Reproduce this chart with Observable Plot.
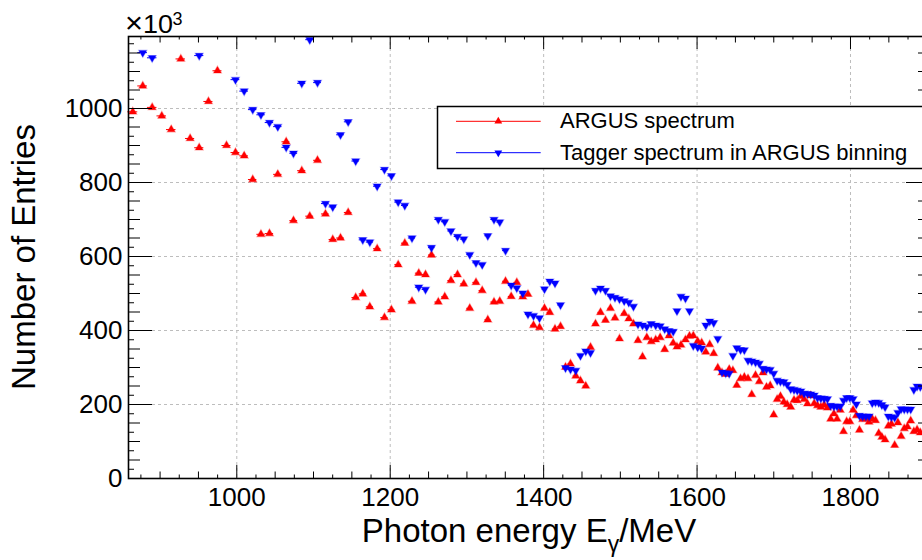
<!DOCTYPE html>
<html><head><meta charset="utf-8">
<script src="https://cdn.jsdelivr.net/npm/d3@7"></script>
<script src="https://cdn.jsdelivr.net/npm/@observablehq/plot@0.6"></script>
<style>
html,body{margin:0;padding:0;background:#fff;overflow:hidden;}
#wrap{width:922px;height:560px;overflow:hidden;position:relative;}
</style></head><body><div id="wrap"></div>
<script>
// Bin centres (photon energy, MeV)
const energy = [864.4, 877.4, 889.7, 902.2, 914.5, 927.0, 939.2, 951.0, 963.1, 974.8,
 986.6, 998.3, 1009.6, 1020.8, 1031.5, 1042.6, 1053.4, 1064.4, 1073.9, 1084.7,
 1095.1, 1105.2, 1115.6, 1125.1, 1135.2, 1145.2, 1155.0, 1164.2, 1173.4, 1183.0,
 1192.5, 1201.6, 1210.4, 1219.0, 1228.4, 1237.2, 1246.0, 1253.8, 1262.7, 1271.1,
 1279.2, 1287.7, 1295.9, 1303.7, 1311.8, 1319.9, 1327.2, 1335.3, 1342.8, 1350.3,
 1357.7, 1365.0, 1372.8, 1379.6, 1386.8, 1394.6, 1401.1, 1408.0, 1414.8, 1422.0,
 1428.5, 1435.0, 1441.9, 1448.0, 1454.9, 1461.1, 1467.6, 1474.1, 1480.6, 1487.1,
 1493.0, 1498.9, 1505.0, 1511.0, 1517.1, 1523.0, 1528.9, 1534.5, 1540.2, 1546.1,
 1551.9, 1557.8, 1563.4, 1568.9, 1573.8, 1579.0, 1584.9, 1590.1, 1595.1, 1600.8,
 1606.0, 1611.4, 1616.5, 1621.7, 1627.0, 1632.5, 1637.4, 1641.9, 1646.7, 1651.8,
 1656.7, 1661.6, 1666.4, 1671.3, 1676.2, 1681.1, 1685.9, 1690.5, 1695.3, 1699.9,
 1704.4, 1708.7, 1713.1, 1717.5, 1722.1, 1726.4, 1730.6, 1735.2, 1739.6, 1743.9,
 1748.2, 1752.7, 1757.0, 1761.4, 1765.7, 1770.0, 1774.2, 1778.4, 1782.5, 1786.7,
 1790.9, 1795.0, 1799.2, 1803.4, 1807.6, 1811.7, 1815.9, 1820.1, 1824.2, 1828.4,
 1832.6, 1836.8, 1840.9, 1845.1, 1849.3, 1853.4, 1857.6, 1861.8, 1866.0, 1870.1,
 1874.3, 1878.5, 1882.6, 1886.8, 1891.0];

// ARGUS spectrum (entries, x10^3)
const argus = [991, 1061, 1003, 980, 943, 1134, 919, 894, 1019, 1102,
 900, 881, 872, 808, 660, 662, 822, 910, 697, 832,
 709, 860, 715, 646, 650, 719, 489, 499, 464, 621,
 435, 456, 578, 636, 479, 555, 551, 604, 477, 491,
 535, 551, 526, 460, 530, 508, 429, 477, 479, 533,
 492, 530, 491, 498, 414, 408, 460, 449, 404, 411,
 301, 310, 277, 264, 250, 355, 418, 449, 428, 460,
 434, 378, 446, 432, 418, 373, 329, 381, 370, 375,
 381, 349, 386, 366, 356, 361, 375, 385, 386, 371,
 367, 342, 362, 338, 299, 286, 282, 295, 292, 252,
 270, 274, 270, 227, 279, 262, 286, 247, 251, 172,
 214, 222, 207, 200, 193, 212, 211, 222, 214, 202,
 224, 203, 197, 193, 199, 191, 161, 175, 161, 185,
 127, 154, 154, 185, 170, 131, 160, 162, 153, 161,
 157, 122, 112, 105, 142, 147, 90, 151, 114, 135,
 140, 156, 127, 132, 124];

// Tagger spectrum in ARGUS binning (null = above the visible range)
const tagger = [null, 1151, 1137, null, null, null, null, 1143, null, null,
 null, 1078, 1047, 997, 983, 962, 951, 895, 879, 1068,
 1186, 1070, 743, 734, 929, 964, 858, 645, 639, 790,
 835, 818, 747, 738, 650, 517, 511, 624, 700, 694,
 669, 654, 647, 605, 583, 578, 656, 700, 693, 616,
 522, 515, 501, 444, 440, 434, 512, 533, 528, 469,
 299, 295, 292, 332, 344, 340, 508, 514, 508, 493,
 489, 485, 480, 476, 465, 417, 414, 410, 418, 414,
 412, 404, 399, 397, 453, 492, 487, 453, 359, 355,
 352, 414, 425, 421, 378, 287, 285, 284, 332, 353,
 348, 347, 319, 317, 314, 311, 297, 295, 294, 284,
 265, 262, 261, 254, 242, 240, 238, 236, 230, 229,
 228, 225, 218, 217, 216, 215, 197, 195, 195, 195,
 211, 218, 218, 215, 201, 170, 168, 168, 168, 204,
 206, 205, 199, 193, 168, 166, 165, 178, 188, 187,
 187, 187, 240, 249, 248];

const xTickLabels = [1000, 1200, 1400, 1600, 1800];
const yTickLabels = [0, 200, 400, 600, 800, 1000];
const seriesNames = ["ARGUS spectrum", "Tagger spectrum in ARGUS binning"];
const seriesColors = ["#ff0000", "#0000ff"];
const xTitle = "Photon energy E";
const xTitleSub = "\u03b3";
const xTitleUnit = "/MeV";
const yTitle = "Number of Entries";
const expTimes = "\u00d7", expBase = "10", expPow = "3";
const FONT = "'Liberation Sans', Arial, Helvetica, sans-serif";

// bin edges from neighbouring centres
const edges = energy.map((e, i) => {
  const lo = i > 0 ? (e + energy[i - 1]) / 2 : e - (energy[1] - energy[0]) / 2;
  const hi = i < energy.length - 1 ? (e + energy[i + 1]) / 2 : e + (e - energy[i - 1]) / 2;
  return [lo, hi];
});
const rows = vals => energy.map((e, i) => ({e, n: vals[i], lo: edges[i][0], hi: edges[i][1]})).filter(d => d.n != null);
const argusRows = rows(argus);
const taggerRows = rows(tagger);

const s3 = Math.sqrt(3);
const triUp = {draw(ctx, size) { const y = -Math.sqrt(size / (s3 * 3)); ctx.moveTo(0, y * 2); ctx.lineTo(-s3 * y, -y); ctx.lineTo(s3 * y, -y); ctx.closePath(); }};
const triDown = {draw(ctx, size) { const y = -Math.sqrt(size / (s3 * 3)); ctx.moveTo(0, -y * 2); ctx.lineTo(-s3 * y, y); ctx.lineTo(s3 * y, y); ctx.closePath(); }};
const R = 2.9;

const W = 930, H = 560, mL = 128, mR = 0, mT = 36, mB = 82;
const fh = H - mT - mB, fw = W - mL - mR;
const xt = d3.range(875, 1905, 25), yt = d3.range(0, 1195, 25);
const lvl = v => v % 200 === 0 ? 0 : v % 50 === 0 ? 1 : 2;
const xLen = [13, 6.5, 3.5], yLen = [24, 12, 6];

const tickMarks = [];
for (let L = 0; L < 3; L++) {
  const xs = xt.filter(v => lvl(v) === L), ys = yt.filter(v => lvl(v) === L && v > 0);
  tickMarks.push(Plot.tickX(xs, {x: d => d, insetTop: fh - xLen[L], stroke: "#000"}));
  tickMarks.push(Plot.tickX(xs, {x: d => d, insetBottom: fh - xLen[L], stroke: "#000"}));
  tickMarks.push(Plot.tickY(ys, {y: d => d, insetRight: fw - yLen[L], stroke: "#000"}));
  tickMarks.push(Plot.tickY(ys, {y: d => d, insetLeft: fw - yLen[L], stroke: "#000"}));
}

const plot = Plot.plot({
  width: W, height: H,
  marginLeft: mL, marginRight: mR, marginTop: mT, marginBottom: mB,
  style: {maxWidth: "none", overflow: "hidden", fontFamily: FONT, background: "#fff"},
  x: {domain: [858.83, 1904.3]},
  y: {domain: [0, 1194.6]},
  marks: [
    Plot.ruleX(xTickLabels, {x: d => d, stroke: "#bdbdbd", strokeDasharray: "3,3"}),
    Plot.ruleY(yTickLabels.filter(v => v > 0), {y: d => d, stroke: "#bdbdbd", strokeDasharray: "3,3"}),
    Plot.ruleY(argusRows, {y: "n", x1: "lo", x2: "hi", stroke: seriesColors[0], strokeWidth: 1}),
    Plot.ruleY(taggerRows, {y: "n", x1: "lo", x2: "hi", stroke: seriesColors[1], strokeWidth: 1}),
    Plot.dot(argusRows, {x: "e", y: "n", symbol: triUp, r: R, fill: seriesColors[0], stroke: seriesColors[0], strokeOpacity: 0.35, strokeWidth: 1.2}),
    Plot.dot(taggerRows, {x: "e", y: "n", symbol: triDown, r: R, fill: seriesColors[1], stroke: seriesColors[1], strokeOpacity: 0.35, strokeWidth: 1.2}),
    ...tickMarks,
    Plot.frame({stroke: "#000", strokeWidth: 1.6}),
    Plot.axisX(xTickLabels, {anchor: "bottom", tickSize: 0, tickPadding: 9, fontSize: 26, tickFormat: d => String(d), label: null}),
    Plot.axisY(yTickLabels, {anchor: "left", tickSize: 0, tickPadding: 6, fontSize: 26, tickFormat: d => String(d), label: null})
  ]
});

const svg = d3.select(plot);
const g = svg.append("g").style("font-family", FONT).attr("fill", "#000").style("text-anchor", "start");
const addText = (x, y, size, str, len) =>
  g.append("text").attr("x", x).attr("y", y).attr("font-size", size).style("font-size", size + "px")
   .style("text-anchor", "start").attr("text-anchor", "start")
   .attr("textLength", len).attr("lengthAdjust", "spacingAndGlyphs").text(str);
// exponent label, built from separate text pieces
addText(125, 33, 30, expTimes, 18);
addText(143, 33, 26, expBase, 30);
addText(172.5, 25, 18, expPow, 10);
// axis titles
const xtt = g.append("text").attr("x", 529).attr("y", 542).style("text-anchor", "middle").style("font-size", "33px");
xtt.append("tspan").text(xTitle);
xtt.append("tspan").style("font-size", "23px").attr("dy", 10).text(xTitleSub);
xtt.append("tspan").attr("dy", -10).text(xTitleUnit);
g.append("text").attr("transform", "translate(35,257) rotate(-90)").style("text-anchor", "middle").style("font-size", "33px").text(yTitle);
// legend
const lg = g.append("g");
lg.append("rect").attr("x", 437.5).attr("y", 106.5).attr("width", 520).attr("height", 62)
  .attr("fill", "#fff").attr("stroke", "#000").attr("stroke-width", 1.5);
const sym = [triUp, triDown];
seriesNames.forEach((name, i) => {
  const y = i === 0 ? 121.3 : 152.7;
  lg.append("line").attr("x1", 456).attr("x2", 540.7).attr("y1", y).attr("y2", y).attr("stroke", seriesColors[i]).attr("stroke-width", 1);
  lg.append("path").attr("transform", `translate(498.3,${y})`).attr("d", d3.symbol(sym[i], Math.PI * R * R)()).attr("fill", seriesColors[i]);
  lg.append("text").attr("x", 560).attr("y", y + 7).style("font-size", "22px").style("text-anchor", "start").text(name);
});

document.getElementById("wrap").appendChild(plot);
</script>
</body></html>
